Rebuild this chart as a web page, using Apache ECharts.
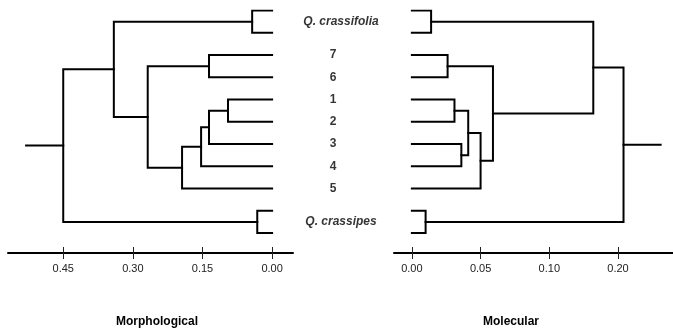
<!DOCTYPE html>
<html>
<head>
<meta charset="utf-8">
<script src="https://cdn.jsdelivr.net/npm/echarts@6/dist/echarts.min.js"></script>
<style>
  html, body { margin: 0; padding: 0; background: #fff; }
  #main { width: 673px; height: 331px; }
</style>
</head>
<body>
<div id="main"></div>
<script>
// leaf rows, top to bottom (the two species have two tips each)
var leafCount = 11;
var leafLabels = ['Q. crassifolia', '7', '6', '1', '2', '3', '4', '5', 'Q. crassipes'];
var labelRows = [0.5, 2, 3, 4, 5, 6, 7, 8, 9.5];

// merges: [childA, childB, height], leaves are 0..10, new nodes are 11, 12, ...
var morphMerges = [
  [0, 1, 0.043],
  [2, 3, 0.136],
  [4, 5, 0.095],
  [13, 6, 0.136],
  [14, 7, 0.153],
  [15, 8, 0.194],
  [12, 16, 0.268],
  [11, 17, 0.341],
  [9, 10, 0.032],
  [18, 19, 0.45]
];
var morphRootEnd = 0.53;
var morphTicks = [0.45, 0.30, 0.15, 0.00];
var morphTickLabels = ['0.45', '0.30', '0.15', '0.00'];

var molMerges = [
  [0, 1, 0.014],
  [2, 3, 0.026],
  [4, 5, 0.031],
  [6, 7, 0.036],
  [13, 14, 0.041],
  [15, 8, 0.050],
  [12, 16, 0.059],
  [11, 17, 0.132],
  [9, 10, 0.010],
  [18, 19, 0.154]
];
var molRootEnd = 0.181;
var molTicks = [0.00, 0.05, 0.10, 0.15];
var molTickLabels = ['0.00', '0.05', '0.10', '0.20'];

var FONT = '"Liberation Sans", Arial, sans-serif';

// turn the merge list into bracket polylines
function treeLines(merges, rootEnd) {
  var h = [], y = [], lines = [];
  for (var i = 0; i < leafCount; i++) { h.push(0); y.push(i); }
  merges.forEach(function (m) {
    var a = m[0], b = m[1], hh = m[2];
    lines.push({ coords: [[h[a], y[a]], [hh, y[a]], [hh, y[b]], [h[b], y[b]]] });
    h.push(hh);
    y.push((y[a] + y[b]) / 2);
  });
  var r = h.length - 1;
  lines.push({ coords: [[h[r], y[r]], [rootEnd, y[r]]] });
  return lines;
}

function pickLabel(ticks, labels, v) {
  for (var i = 0; i < ticks.length; i++) {
    if (Math.abs(ticks[i] - v) < 1e-6) return labels[i];
  }
  return '';
}

function bottomAxis(gridIndex, min, max, inverse, ticks, labels, inside) {
  return {
    type: 'value',
    gridIndex: gridIndex,
    position: 'bottom',
    offset: 20,
    min: min,
    max: max,
    inverse: inverse,
    splitLine: { show: false },
    axisLine: { show: !inside, onZero: false, lineStyle: { color: '#000', width: 2 } },
    axisTick: {
      show: true,
      inside: inside,
      length: 6,
      customValues: ticks,
      lineStyle: { color: '#222', width: 1 }
    },
    axisLabel: {
      show: !inside,
      customValues: ticks,
      margin: 10,
      color: '#222',
      fontSize: 11,
      fontFamily: FONT,
      formatter: function (v) { return pickLabel(ticks, labels, v); }
    }
  };
}

function rowAxis(gridIndex) {
  return { type: 'value', gridIndex: gridIndex, min: 0, max: leafCount - 1, inverse: true, show: false };
}

var lineStyle = { color: '#000', width: 2, opacity: 1, cap: 'square', join: 'miter' };

var chart = echarts.init(document.getElementById('main'));
chart.setOption({
  animation: false,
  backgroundColor: '#fff',
  grid: [
    { left: 8, top: 10.5, width: 285, height: 222.5 },
    { left: 394, top: 10.5, width: 279, height: 222.5 },
    { left: 287, top: 10.5, width: 100, height: 222.5 }
  ],
  xAxis: [
    bottomAxis(0, -0.045, 0.569, true, morphTicks, morphTickLabels, false),
    bottomAxis(0, -0.045, 0.569, true, morphTicks, morphTickLabels, true),
    bottomAxis(1, -0.013, 0.19, false, molTicks, molTickLabels, false),
    bottomAxis(1, -0.013, 0.19, false, molTicks, molTickLabels, true),
    { type: 'value', gridIndex: 2, min: 0, max: 1, show: false }
  ],
  yAxis: [rowAxis(0), rowAxis(1), rowAxis(2)],
  graphic: [
    { type: 'text', left: 116, top: 316, style: { text: 'Morphological', font: 'bold 12px ' + FONT, fill: '#000' } },
    { type: 'text', left: 483, top: 316, style: { text: 'Molecular', font: 'bold 12px ' + FONT, fill: '#000' } }
  ],
  series: [
    {
      type: 'lines',
      coordinateSystem: 'cartesian2d',
      xAxisIndex: 0,
      yAxisIndex: 0,
      polyline: true,
      silent: true,
      lineStyle: lineStyle,
      data: treeLines(morphMerges, morphRootEnd)
    },
    {
      type: 'lines',
      coordinateSystem: 'cartesian2d',
      xAxisIndex: 2,
      yAxisIndex: 1,
      polyline: true,
      silent: true,
      lineStyle: lineStyle,
      data: treeLines(molMerges, molRootEnd)
    },
    {
      type: 'scatter',
      xAxisIndex: 4,
      yAxisIndex: 2,
      symbolSize: 0,
      silent: true,
      clip: false,
      data: leafLabels.map(function (t, i) {
        var sp = t.indexOf('Q.') === 0;
        return {
          name: t,
          value: [0.5, labelRows[i]],
          label: { fontStyle: sp ? 'italic' : 'normal', offset: [sp ? 4 : -4, 0] }
        };
      }),
      label: {
        show: true,
        position: 'inside',
        formatter: '{b}',
        color: '#000',
        fontSize: 12,
        fontWeight: 'bold',
        fontFamily: FONT
      }
    }
  ]
});
</script>
</body>
</html>
